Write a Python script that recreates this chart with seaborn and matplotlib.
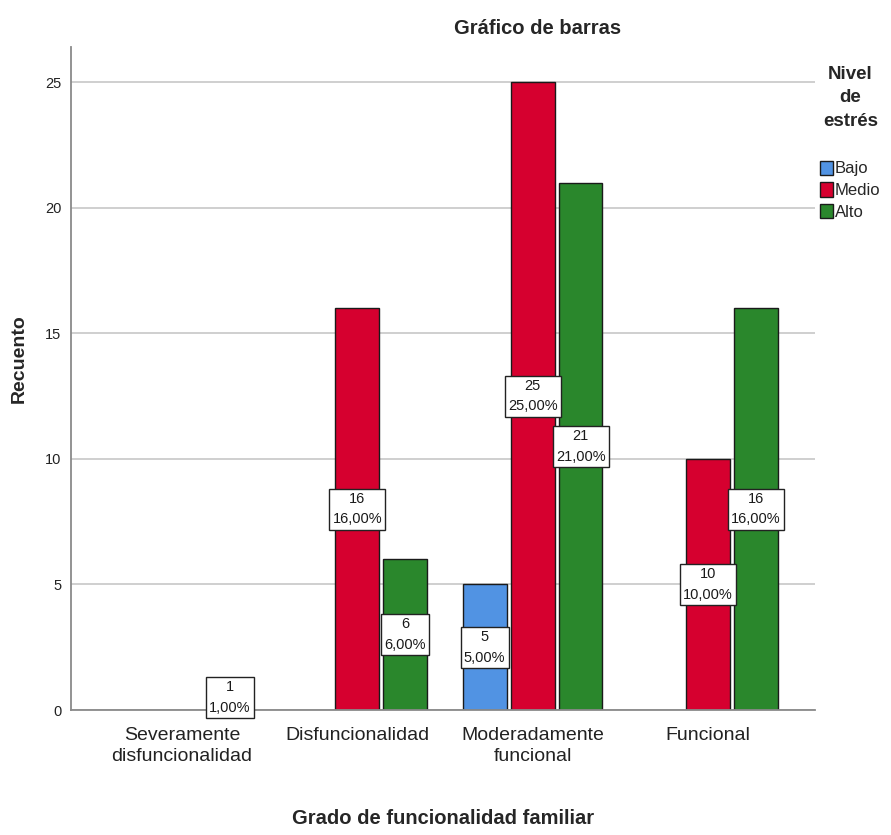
import pandas as pd
import matplotlib
matplotlib.use('Agg')
import matplotlib.pyplot as plt
import seaborn as sns

# Data
grados = ['Severamente\ndisfuncionalidad', 'Disfuncionalidad',
          'Moderadamente\nfuncional', 'Funcional']
niveles = ['Bajo', 'Medio', 'Alto']
bajo = [0, 0, 5, 0]
medio = [0, 16, 25, 10]
alto = [1, 6, 21, 16]
total = 100

colores = {'Bajo': '#5193e3', 'Medio': '#d6002f', 'Alto': '#2a872c'}

rows = []
for i, g in enumerate(grados):
    for nivel, vals in zip(niveles, [bajo, medio, alto]):
        rows.append({'Grado': g, 'Nivel': nivel, 'Recuento': vals[i]})
df = pd.DataFrame(rows)

sns.set_style('white')
plt.rcParams['font.family'] = ['Liberation Sans', 'DejaVu Sans']

fig = plt.figure(figsize=(8.91, 8.35), dpi=100)
ax = fig.add_axes([71 / 891, 1 - 710 / 835, (815 - 71) / 891, (710 - 47) / 835])

sns.barplot(data=df, x='Grado', y='Recuento', hue='Nivel', order=grados,
            hue_order=niveles, palette=colores, width=0.82, gap=0.085,
            edgecolor='#1a1a1a', linewidth=1.0, saturation=1, errorbar=None,
            ax=ax, zorder=3)

# hide empty bars, label the others
for cont in ax.containers:
    for bar in cont:
        h = bar.get_height()
        if h == 0:
            bar.set_visible(False)
            continue
        pct = f'{h / total * 100:.2f}%'.replace('.', ',')
        ax.text(bar.get_x() + bar.get_width() / 2, h / 2, f'{int(h)}\n{pct}',
                ha='center', va='center', fontsize=10.5, linespacing=1.6,
                zorder=5, color='#1a1a1a',
                bbox=dict(boxstyle='square,pad=0.22', fc='white', ec='#222222', lw=1))

ax.set_xlim(-0.632, 3.61)
ax.set_ylim(0, 26.4)
ax.set_yticks([0, 5, 10, 15, 20, 25])
ax.yaxis.grid(True, color='#cfcfcf', linewidth=1.4, zorder=0)
ax.set_axisbelow(True)
for s in ['top', 'right']:
    ax.spines[s].set_visible(False)
for s in ['left', 'bottom']:
    ax.spines[s].set_color('#8a8a8a')
    ax.spines[s].set_linewidth(1.3)
ax.spines['bottom'].set_zorder(4)
ax.tick_params(axis='both', length=0)
ax.tick_params(axis='y', labelsize=10.5, pad=7, labelcolor='#222222')
ax.tick_params(axis='x', labelsize=14, pad=12, labelcolor='#222222')
for t in ax.get_xticklabels():
    t.set_linespacing(1.35)
ax.set_xlabel('')
ax.set_ylabel('')

fig.text(538 / 891, 1 - 28 / 835, 'Gráfico de barras', ha='center', va='center',
         fontsize=14.5, fontweight='bold')
fig.text(443 / 891, 1 - 819 / 835, 'Grado de funcionalidad familiar', ha='center',
         va='center', fontsize=14.5, fontweight='bold')
fig.text(19 / 891, 1 - 359 / 835, 'Recuento', ha='center', va='center',
         rotation=90, fontsize=14, fontweight='bold')

handles, labels = ax.get_legend_handles_labels()
leg = ax.legend(handles, labels, title='Nivel\nde\nestrés', loc='upper left',
                bbox_to_anchor=(820 / 891, 1 - 66 / 835), bbox_transform=fig.transFigure,
                frameon=False, fontsize=12, handlelength=0.75, handleheight=0.95,
                handletextpad=0.15, labelspacing=0.35, borderaxespad=0, borderpad=0,
                alignment='center',
                title_fontproperties={'weight': 'bold', 'size': 13.5})
leg.get_title().set_multialignment('center')
leg.get_title().set_linespacing(1.5)
leg._legend_box.sep = 22

fig.savefig('out.png', dpi=100)
